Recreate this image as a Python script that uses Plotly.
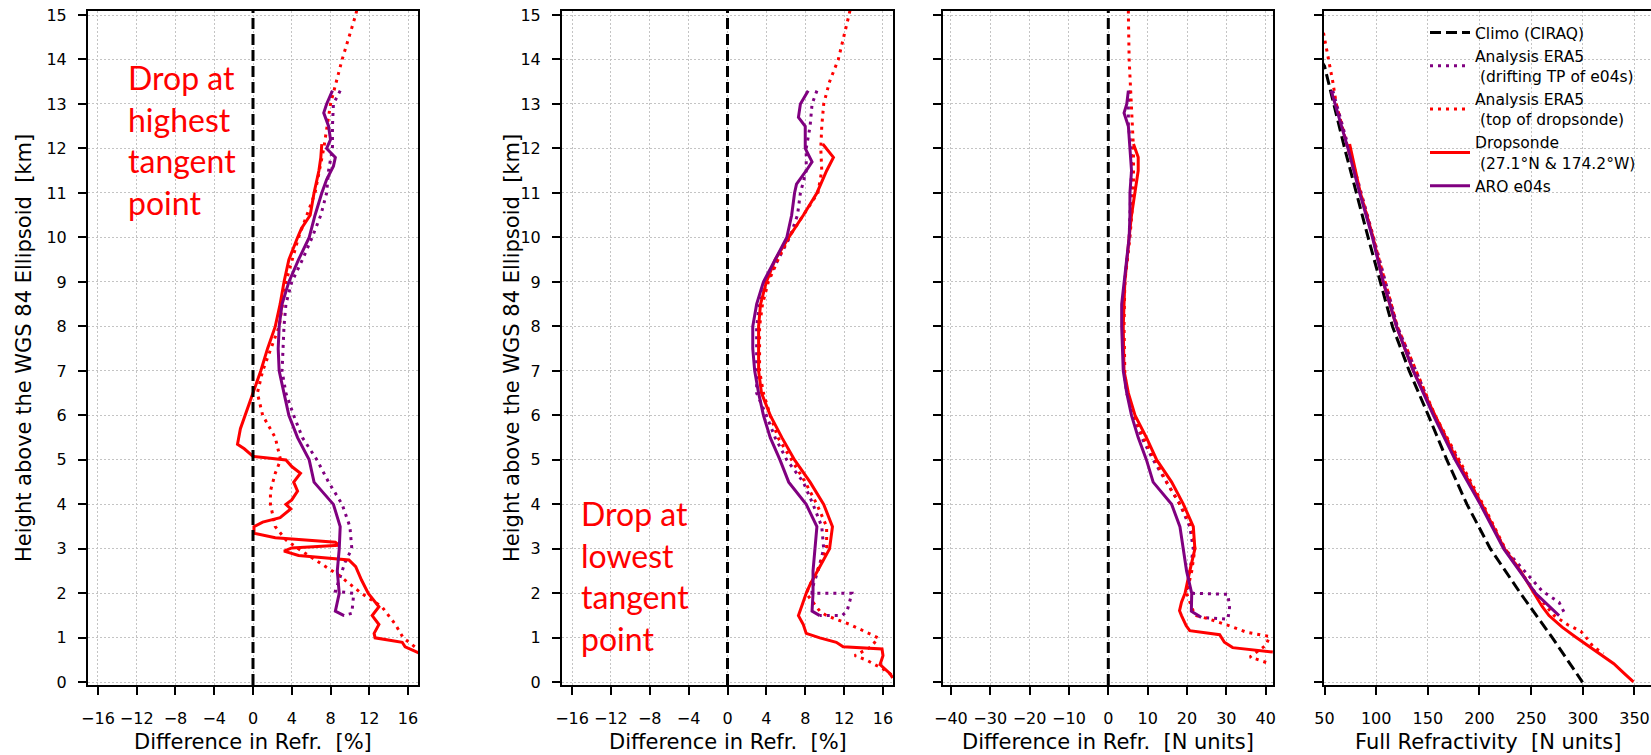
import plotly.graph_objects as go

# ---------------- data (height [km], value) ----------------
# Panel 1 : Difference in refractivity [%] (drop at highest tangent point)
p1_drop_h = [12.1, 11.8, 11.5, 11.0, 10.5, 10.2, 10.0, 9.5, 9.0, 8.5, 8.0, 7.5, 7.0, 6.5, 6.0, 5.7, 5.35, 5.25, 5.08, 5.0,
             4.85, 4.7, 4.5, 4.3, 4.1, 4.0, 3.9, 3.7, 3.6, 3.5, 3.35, 3.25, 3.15, 3.08, 3.02, 2.95, 2.85, 2.75, 2.6, 2.3,
             2.0, 1.7, 1.5, 1.3, 1.1, 1.0, 0.9, 0.8, 0.7, 0.65]
p1_drop_v = [7.1, 7.0, 6.8, 6.3, 5.9, 5.0, 4.6, 3.7, 3.2, 2.8, 2.3, 1.5, 0.8, 0.0, -0.75, -1.3, -1.6, -0.9, 0.0, 3.4,
             4.0, 4.9, 4.2, 4.6, 4.0, 3.4, 3.9, 2.8, 1.0, 0.1, 0.1, 2.3, 8.5, 8.9, 4.0, 3.2, 4.7, 9.9, 10.6, 11.2,
             11.9, 13.0, 12.3, 13.0, 12.5, 12.6, 15.4, 15.7, 16.7, 17.2]
p1_eratop_h = [15.1, 15.0, 14.0, 13.4, 13.0, 12.0, 11.0, 10.7, 10.0, 9.0, 8.0, 7.0, 6.5, 6.0, 5.5, 5.0, 4.7, 4.3, 4.0,
               3.5, 3.2, 3.0, 2.7, 2.4, 2.0, 1.7, 1.3, 1.0, 0.8, 0.7]
p1_eratop_v = [10.7, 10.6, 9.2, 8.5, 8.0, 7.3, 6.4, 5.9, 4.7, 3.4, 2.7, 1.0, 0.45, 1.0, 2.3, 2.85, 2.3, 1.8, 1.8,
               2.3, 3.4, 4.7, 6.8, 8.9, 11.2, 13.3, 14.7, 15.5, 16.7, 17.2]
p1_aro_h = [13.3, 13.0, 12.8, 12.5, 12.2, 12.0, 11.8, 11.6, 11.3, 11.0, 10.5, 10.0, 9.5, 9.0, 8.5, 8.0, 7.5, 7.0, 6.5,
            6.0, 5.5, 5.0, 4.5, 4.0, 3.5, 3.0, 2.5, 2.0, 1.6, 1.5]
p1_aro_v = [8.2, 7.6, 7.3, 7.8, 8.0, 7.6, 8.5, 8.3, 7.6, 7.1, 6.4, 5.8, 4.7, 3.7, 3.0, 2.7, 2.6, 2.7, 3.2,
            3.7, 4.6, 5.8, 6.3, 8.3, 9.0, 8.9, 8.7, 8.9, 8.5, 9.4]
p1_eradrift_h = [13.3, 13.0, 12.5, 12.0, 11.5, 11.0, 10.5, 10.0, 9.5, 9.0, 8.5, 8.0, 7.0, 6.5, 6.0, 5.5, 5.0, 4.5, 4.0,
                 3.5, 3.0, 2.7, 2.5, 2.05, 2.0, 1.55, 1.5]
p1_eradrift_v = [9.0, 8.3, 8.2, 8.2, 7.8, 7.6, 7.0, 6.1, 5.1, 4.0, 3.4, 3.2, 3.0, 3.4, 4.2, 5.1, 6.6, 7.8, 9.2,
                 10.0, 10.2, 9.5, 9.2, 8.5, 10.4, 10.2, 9.3]

# Panel 2 : Difference in refractivity [%] (drop at lowest tangent point)
p2_drop_h = [12.1, 11.8, 11.5, 11.0, 10.5, 10.0, 9.5, 9.0, 8.5, 8.0, 7.0, 6.5, 6.0, 5.5, 5.0, 4.5, 4.0, 3.5, 3.0, 2.5,
             2.2, 2.0, 1.8, 1.5, 1.3, 1.1, 1.0, 0.9, 0.8, 0.75, 0.6, 0.4, 0.2, 0.1]
p2_drop_v = [9.8, 10.9, 10.2, 9.2, 7.8, 6.3, 4.9, 4.0, 3.4, 3.2, 3.2, 3.5, 4.4, 5.6, 6.9, 8.5, 9.9, 10.8, 10.5, 9.2,
             8.5, 8.1, 7.8, 7.3, 7.8, 8.1, 9.5, 11.2, 11.9, 15.9, 16.0, 15.7, 16.7, 17.0]
p2_eratop_h = [15.1, 15.0, 14.0, 13.5, 13.0, 12.5, 12.0, 11.5, 11.0, 10.5, 10.0, 9.5, 9.0, 8.5, 8.0, 7.0, 6.5, 6.0, 5.5,
               5.0, 4.5, 4.0, 3.5, 3.0, 2.5, 2.2, 2.0, 1.6, 1.5, 1.3, 1.0, 0.8, 0.6, 0.5, 0.3, 0.15]
p2_eratop_v = [12.6, 12.5, 11.4, 10.5, 9.9, 9.7, 9.6, 9.7, 9.3, 7.8, 6.3, 5.2, 4.2, 3.6, 3.3, 3.3, 3.7, 4.4, 5.2,
               6.6, 8.0, 9.2, 10.2, 10.2, 9.2, 8.5, 8.1, 9.5, 10.2, 12.6, 15.5, 14.8, 13.1, 14.3, 16.0, 17.0]
p2_aro_h = [13.3, 13.0, 12.7, 12.5, 12.0, 11.7, 11.5, 11.2, 11.0, 10.5, 10.0, 9.5, 9.0, 8.5, 8.0, 7.5, 7.0, 6.5, 6.0,
            5.5, 5.0, 4.5, 4.0, 3.5, 3.0, 2.5, 2.0, 1.6, 1.5]
p2_aro_v = [8.3, 7.5, 7.3, 8.0, 8.0, 8.7, 8.1, 7.1, 6.9, 6.6, 6.1, 4.9, 3.7, 3.0, 2.6, 2.6, 2.8, 3.2, 3.7,
            4.4, 5.4, 6.3, 8.1, 9.2, 9.0, 8.8, 8.8, 8.7, 9.5]
p2_eradrift_h = [13.3, 13.0, 12.5, 12.0, 11.5, 11.0, 10.5, 10.0, 9.5, 9.0, 8.5, 8.0, 7.0, 6.5, 6.0, 5.5, 5.0, 4.5, 4.0,
                 3.5, 3.0, 2.5, 2.1, 2.0, 2.0, 1.6, 1.5, 1.5]
p2_eradrift_v = [9.2, 8.7, 8.5, 8.1, 8.1, 7.5, 7.2, 6.4, 5.2, 4.0, 3.3, 3.0, 3.0, 3.0, 4.0, 4.9, 6.1, 7.8, 8.8,
                 9.7, 9.9, 9.3, 8.7, 8.7, 12.8, 12.3, 11.8, 9.5]

# Panel 3 : Difference in refractivity [N units]
p3_drop_h = [12.1, 11.8, 11.5, 11.0, 10.5, 10.0, 9.5, 9.0, 8.0, 7.0, 6.5, 6.0, 5.5, 5.0, 4.5, 4.0, 3.5, 3.0, 2.5, 2.2,
             2.0, 1.8, 1.61, 1.5, 1.27, 1.16, 1.13, 1.07, 0.9, 0.78, 0.68]
p3_drop_v = [6.4, 7.6, 7.6, 6.8, 5.9, 5.3, 4.8, 4.2, 3.8, 4.0, 5.1, 6.8, 9.7, 12.3, 16.1, 19.1, 21.6, 22.0, 20.7, 19.9,
             19.5, 18.6, 18.1, 18.6, 19.8, 20.7, 23.2, 28.3, 29.5, 31.6, 41.8]
p3_eratop_h = [15.1, 15.0, 14.0, 13.0, 12.5, 12.0, 11.0, 10.0, 9.0, 8.0, 7.0, 6.5, 6.0, 5.5, 5.0, 4.5, 4.0, 3.5, 3.0,
               2.5, 2.0, 1.6, 1.5, 1.42, 1.27, 1.13, 1.03, 0.83, 0.57, 0.42]
p3_eratop_v = [5.1, 5.1, 5.3, 5.8, 6.1, 6.4, 6.4, 5.5, 4.2, 4.0, 4.2, 4.7, 6.4, 8.9, 11.9, 14.8, 18.2, 21.2, 22.0,
               21.2, 19.9, 21.6, 22.4, 25.7, 30.8, 35.0, 41.0, 40.0, 36.0, 41.0]
p3_aro_h = [13.3, 13.0, 12.8, 12.5, 12.0, 11.5, 11.0, 10.5, 10.0, 9.5, 9.0, 8.5, 8.0, 7.5, 7.0, 6.5, 6.0, 5.5, 5.0,
            4.5, 4.0, 3.5, 3.0, 2.5, 2.0, 1.6, 1.46]
p3_aro_v = [5.1, 4.7, 4.0, 5.1, 5.5, 5.9, 5.5, 5.5, 5.3, 4.7, 4.0, 3.4, 3.4, 3.6, 3.8, 4.7, 5.9, 7.6, 9.7,
            11.4, 16.1, 18.2, 19.1, 19.9, 21.2, 21.1, 23.6]
p3_eradrift_h = [13.3, 13.0, 12.5, 12.0, 11.5, 11.0, 10.0, 9.0, 8.0, 7.0, 6.5, 6.0, 5.5, 5.0, 4.5, 4.0, 3.5, 3.0, 2.5,
                 2.1, 2.0, 1.98, 1.68, 1.42, 1.46]
p3_eradrift_v = [5.5, 5.1, 5.1, 5.9, 5.9, 5.7, 5.3, 4.2, 3.6, 4.0, 4.7, 6.4, 8.5, 11.4, 14.8, 18.2, 20.7, 21.6, 20.7,
                 20.3, 21.5, 30.4, 30.8, 30.4, 23.6]

# Panel 4 : Full refractivity [N units]
p4_climo_h = [14.0, 13.85, 12.0, 10.0, 8.0, 7.0, 6.0, 5.0, 4.0, 3.0, 2.0, 1.0, 0.0]
p4_climo_v = [46.0, 50.0, 69.5, 92.2, 115.8, 132.0, 150.5, 168.4, 187.9, 210.6, 239.7, 270.6, 299.8]
p4_drop_h = [12.1, 11.0, 10.0, 9.0, 8.0, 7.0, 6.0, 5.0, 4.0, 3.0, 2.5, 2.0, 1.7, 1.5, 1.24, 1.02, 0.79, 0.64, 0.42,
             0.2, 0.01]
p4_drop_v = [74.3, 84.7, 97.0, 106.8, 119.7, 136.0, 157.0, 178.0, 202.4, 224.2, 239.8, 252.7, 260.8, 267.3, 280.0,
             293.0, 307.0, 317.0, 330.0, 340.0, 349.0]
p4_eratop_h = [14.6, 14.0, 13.5, 13.0, 12.0, 10.0, 8.0, 6.0, 4.0, 3.0, 2.0, 1.5, 1.3, 1.15, 1.05, 0.8, 0.65]
p4_eratop_v = [49.0, 54.2, 58.0, 61.4, 72.7, 97.0, 120.4, 157.0, 203.4, 225.0, 254.3, 272.2, 285.0, 298.0, 302.0,
               310.0, 320.0]
p4_aro_h = [13.3, 12.0, 11.0, 10.0, 9.0, 8.0, 7.0, 6.0, 5.0, 4.0, 3.0, 2.0, 1.5]
p4_aro_v = [56.5, 72.7, 84.0, 96.4, 106.8, 119.7, 136.0, 155.4, 176.5, 200.8, 223.5, 254.3, 277.0]
p4_eradrift_h = [13.3, 12.0, 11.0, 10.0, 8.0, 6.0, 4.0, 3.0, 2.05, 2.0, 1.8, 1.5]
p4_eradrift_v = [58.0, 73.5, 85.0, 97.5, 120.5, 156.5, 202.0, 224.5, 260.8, 264.0, 277.0, 283.5]

y_ticks = list(range(0, 16))
x_ticks_pct = [-16, -12, -8, -4, 0, 4, 8, 12, 16]
x_ticks_n = [-40, -30, -20, -10, 0, 10, 20, 30, 40]
x_ticks_full = [50, 100, 150, 200, 250, 300, 350]

# ---------------- styling ----------------
W, H = 1651, 755
RED = "#ff0000"
PURPLE = "#800080"
DOT = "3px,5px"
DASH = "11px,5px"
LW = 3
FONT = "DejaVu Sans"

panels = [
    dict(dom=(88, 418), rng=[-17.03, 17.03], ticks=x_ticks_pct, title="Difference in Refr.  [%]", ylabels=True,
         data=dict(drift=(p1_eradrift_h, p1_eradrift_v), top=(p1_eratop_h, p1_eratop_v),
                   drop=(p1_drop_h, p1_drop_v), aro=(p1_aro_h, p1_aro_v))),
    dict(dom=(562, 893), rng=[-17.03, 17.03], ticks=x_ticks_pct, title="Difference in Refr.  [%]", ylabels=True,
         data=dict(drift=(p2_eradrift_h, p2_eradrift_v), top=(p2_eratop_h, p2_eratop_v),
                   drop=(p2_drop_h, p2_drop_v), aro=(p2_aro_h, p2_aro_v))),
    dict(dom=(943, 1273), rng=[-42.0, 41.85], ticks=x_ticks_n, title="Difference in Refr.  [N units]", ylabels=False,
         data=dict(drift=(p3_eradrift_h, p3_eradrift_v), top=(p3_eratop_h, p3_eratop_v),
                   drop=(p3_drop_h, p3_drop_v), aro=(p3_aro_h, p3_aro_v))),
    dict(dom=(1324, 1651), rng=[49.5, 366.0], ticks=x_ticks_full, title="Full Refractivity  [N units]", ylabels=False,
         data=dict(drift=(p4_eradrift_h, p4_eradrift_v), top=(p4_eratop_h, p4_eratop_v),
                   drop=(p4_drop_h, p4_drop_v), aro=(p4_aro_h, p4_aro_v))),
]

Y_BOT, Y_TOP = 685, 11
ydom = [(H - Y_BOT) / H, (H - Y_TOP) / H]

fig = go.Figure()
series_style = [
    ("drift", "Analysis ERA5<br> (drifting TP of e04s)", PURPLE, DOT),
    ("top", "Analysis ERA5<br> (top of dropsonde)", RED, DOT),
    ("drop", "Dropsonde<br> (27.1°N & 174.2°W)", RED, "solid"),
    ("aro", "ARO e04s", PURPLE, "solid"),
]

layout_axes = {}
shapes = []
annotations = []
for i, p in enumerate(panels):
    n = i + 1
    xa = "x" if n == 1 else f"x{n}"
    ya = "y" if n == 1 else f"y{n}"
    last = (n == 4)
    if last:
        fig.add_trace(go.Scatter(x=p4_climo_v, y=p4_climo_h, xaxis=xa, yaxis=ya, mode="lines",
                                 name="Climo (CIRAQ)", line=dict(color="black", width=LW, dash=DASH),
                                 showlegend=True, legendrank=1))
    for rank, (key, name, color, dash) in enumerate(series_style):
        h, v = p["data"][key]
        fig.add_trace(go.Scatter(x=v, y=h, xaxis=xa, yaxis=ya, mode="lines", name=name,
                                 line=dict(color=color, width=LW, dash=dash),
                                 showlegend=last, legendrank=rank + 2))
    x0, x1 = p["dom"]
    layout_axes["xaxis" if n == 1 else f"xaxis{n}"] = dict(
        domain=[x0 / W, x1 / W], range=p["rng"], anchor=ya, tickvals=p["ticks"],
        showline=True, linecolor="black", linewidth=2, mirror=True,
        ticks="outside", ticklen=8, tickwidth=2, tickcolor="black",
        ticklabelstandoff=10,
        tickfont=dict(family=FONT, size=16, color="black"),
        showgrid=True, gridcolor="#c4c4c4", gridwidth=1, griddash="2px,2px",
        zeroline=False, automargin=False,
    )
    layout_axes["yaxis" if n == 1 else f"yaxis{n}"] = dict(
        domain=ydom, range=[-0.06, 15.09], anchor=xa, tickvals=y_ticks,
        showticklabels=p["ylabels"],
        showline=True, linecolor="black", linewidth=2, mirror=(not last),
        ticks="outside", ticklen=8, tickwidth=2, tickcolor="black",
        ticklabelstandoff=8,
        tickfont=dict(family=FONT, size=16, color="black"),
        showgrid=True, gridcolor="#c4c4c4", gridwidth=1, griddash="2px,2px",
        zeroline=False, automargin=False,
    )
    if not last:
        shapes.append(dict(type="line", xref=xa, yref=f"{ya} domain", x0=0, x1=0, y0=0, y1=1,
                           line=dict(color="black", width=LW, dash=DASH), layer="above"))
    annotations.append(dict(text=p["title"], xref="paper", yref="paper", x=(x0 + x1) / 2 / W,
                            y=(H - 742) / H, xanchor="center", yanchor="middle", showarrow=False,
                            font=dict(family=FONT, size=21, color="black")))

for xc in (24, 512):
    annotations.append(dict(text="Height above the WGS 84 Ellipsoid  [km]", xref="paper", yref="paper",
                            x=xc / W, y=sum(ydom) / 2, xanchor="center", yanchor="middle", textangle=-90,
                            showarrow=False, font=dict(family=FONT, size=21, color="black")))

annotations.append(dict(text="Drop at<br>highest<br>tangent<br>point", xref="paper", yref="paper",
                        x=126 / W, y=(H - 56) / H, xanchor="left", yanchor="top", align="left", showarrow=False,
                        font=dict(family="Lato", size=32, color=RED)))
annotations.append(dict(text="Drop at<br>lowest<br>tangent<br>point", xref="paper", yref="paper",
                        x=579 / W, y=(H - 492) / H, xanchor="left", yanchor="top", align="left", showarrow=False,
                        font=dict(family="Lato", size=32, color=RED)))

fig.update_layout(
    width=W, height=H, margin=dict(l=0, r=0, t=0, b=0),
    paper_bgcolor="white", plot_bgcolor="white",
    shapes=shapes, annotations=annotations,
    legend=dict(x=1425 / W, y=(H - 16) / H, xanchor="left", yanchor="top", bgcolor="rgba(0,0,0,0)",
                borderwidth=0, font=dict(family=FONT, size=15.5, color="black"), itemwidth=40,
                tracegroupgap=0),
    showlegend=True,
    **layout_axes,
)

fig.write_html("out.html")
